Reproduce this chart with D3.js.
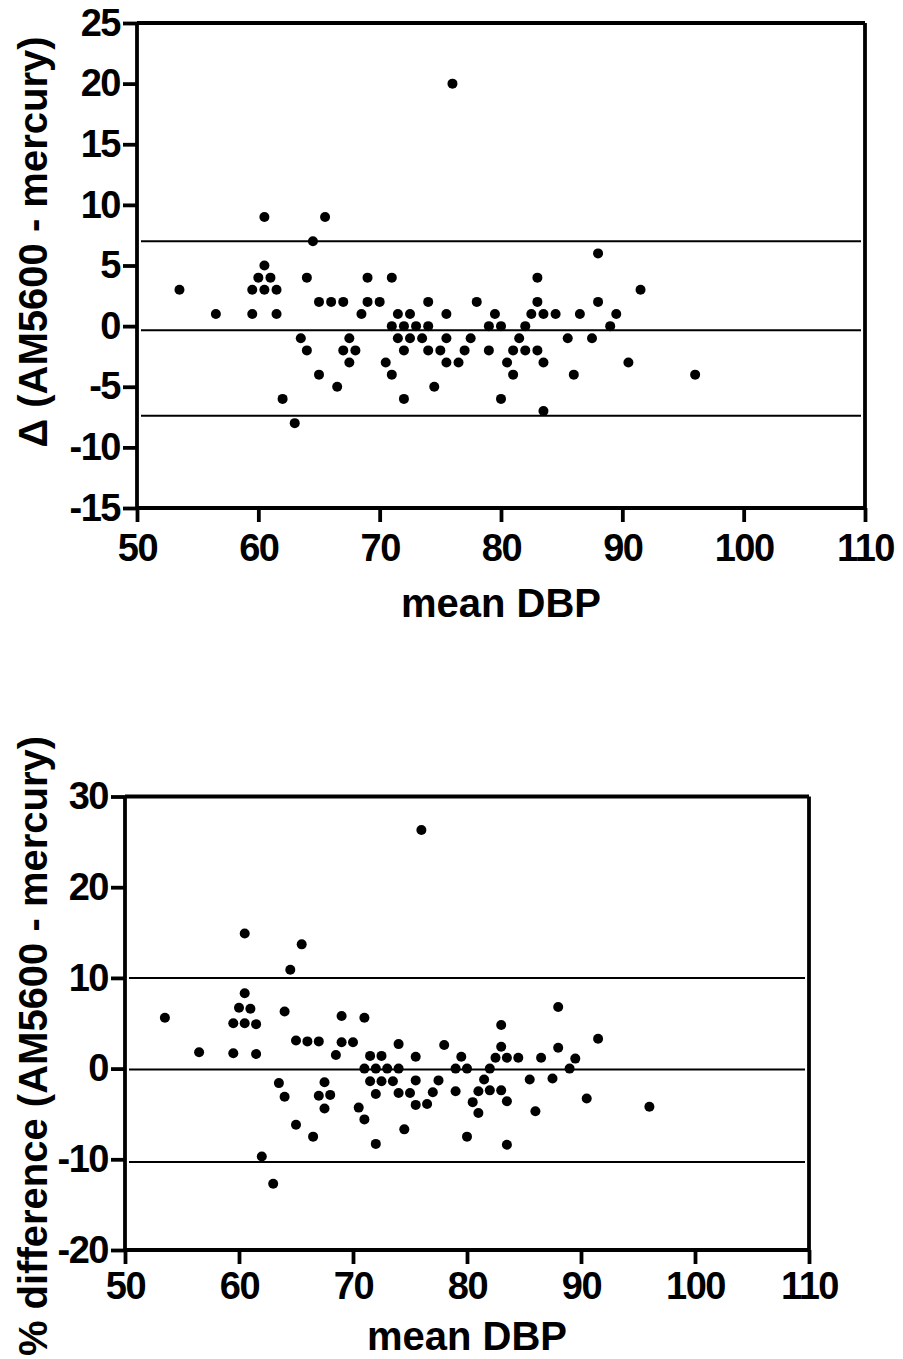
<!DOCTYPE html>
<html>
<head>
<meta charset="utf-8">
<script src="https://cdn.jsdelivr.net/npm/d3@7"></script>
<style>
  html, body { margin: 0; padding: 0; background: #fff; }
  svg { display: block; }
  text { font-family: "Liberation Sans", Arial, sans-serif; font-weight: bold; fill: #000; }
</style>
</head>
<body>
<svg id="chart" width="903" height="1359"></svg>
<script>
// ---- data ----
const meanDBP = [53.5,56.5,59.5,59.5,60,60.5,60.5,60.5,61,61.5,61.5,62,63,63.5,64,64,64.5,65,65,65.5,66,66.5,67,67,67.5,67.5,68,68.5,69,69,70,70.5,71,71,71,71.5,71.5,72,72,72,72.5,72.5,73,73.5,74,74,74,74.5,75,75.5,75.5,75.5,76,76.5,77,77.5,78,79,79,79.5,80,80,80.5,81,81,81.5,82,82,82.5,83,83,83,83.5,83.5,83.5,84.5,85.5,86,86.5,87.5,88,88,89,89.5,90.5,91.5,96];
const deltaVals = [3,1,3,1,4,9,5,3,4,3,1,-6,-8,-1,4,-2,7,2,-4,9,2,-5,2,-2,-1,-3,-2,1,4,2,2,-3,4,0,-4,1,-1,0,-2,-6,1,-1,0,-1,2,0,-2,-5,-2,1,-1,-3,20,-3,-2,-1,2,0,-2,1,0,-6,-3,-2,-4,-1,0,-2,1,4,2,-2,1,-3,-7,1,-1,-4,1,-1,6,2,0,1,-3,3,-4];
const pctVals = [5.6,1.8,5.0,1.7,6.7,14.9,8.3,5.0,6.6,4.9,1.6,-9.7,-12.7,-1.6,6.3,-3.1,10.9,3.1,-6.2,13.7,3.0,-7.5,3.0,-3.0,-1.5,-4.4,-2.9,1.5,5.8,2.9,2.9,-4.3,5.6,0,-5.6,1.4,-1.4,0,-2.8,-8.3,1.4,-1.4,0,-1.4,2.7,0,-2.7,-6.7,-2.7,1.3,-1.3,-4.0,26.3,-3.9,-2.6,-1.3,2.6,0,-2.5,1.3,0,-7.5,-3.7,-2.5,-4.9,-1.2,0,-2.4,1.2,4.8,2.4,-2.4,1.2,-3.6,-8.4,1.2,-1.2,-4.7,1.2,-1.1,6.8,2.3,0,1.1,-3.3,3.3,-4.2];

const deltaLines = [7.0, -0.35, -7.4];   // upper limit, mean, lower limit
const pctLines = [10.0, -0.1, -10.3];

const xTicks = [50,60,70,80,90,100,110];
const deltaTicks = [-15,-10,-5,0,5,10,15,20,25];
const pctTicks = [-20,-10,0,10,20,30];

const xTitle = "mean DBP";
const deltaTitle = "\u0394 (AM5600 - mercury)";
const pctTitle = "% difference (AM5600 - mercury)";

// ---- drawing ----
const svg = d3.select("#chart");

function panel(cfg) {
  const g = svg.append("g");
  const x = d3.scaleLinear().domain([50,110]).range([cfg.left, cfg.right]);
  const y = d3.scaleLinear().domain(cfg.yDomain).range([cfg.bottom, cfg.top]);

  // reference lines
  g.selectAll("line.ref").data(cfg.lines).enter().append("line")
    .attr("class","ref")
    .attr("x1", x(50) + 4).attr("x2", x(110) - 4)
    .attr("y1", d => y(d)).attr("y2", d => y(d))
    .attr("stroke", "#000").attr("stroke-width", 2);

  // points
  g.selectAll("circle").data(meanDBP.map((m,i) => [m, cfg.values[i]])).enter().append("circle")
    .attr("cx", d => x(d[0])).attr("cy", d => y(d[1])).attr("r", 5)
    .attr("fill", "#000");

  // frame (top and right)
  g.append("line").attr("x1", x(50)).attr("x2", x(110)).attr("y1", y(cfg.yDomain[1])).attr("y2", y(cfg.yDomain[1]))
    .attr("stroke","#000").attr("stroke-width",3.8);
  g.append("line").attr("x1", x(110)).attr("x2", x(110)).attr("y1", y(cfg.yDomain[0])).attr("y2", y(cfg.yDomain[1]))
    .attr("stroke","#000").attr("stroke-width",3.8);

  // axes
  const xa = g.append("g").attr("transform", `translate(0,${cfg.bottom})`)
    .call(d3.axisBottom(x).tickValues(xTicks).tickSize(14).tickPadding(cfg.xPad).tickFormat(d => String(d)));
  const ya = g.append("g").attr("transform", `translate(${cfg.left},0)`)
    .call(d3.axisLeft(y).tickValues(cfg.yTicks).tickSize(14).tickPadding(3).tickFormat(d => String(d)));
  [xa, ya].forEach(a => {
    a.select(".domain").attr("stroke","#000").attr("stroke-width",3.8);
    a.selectAll(".tick line").attr("stroke","#000").attr("stroke-width",3.8);
    a.selectAll(".tick text").attr("font-size", 38).attr("letter-spacing", "-1.5px")
      .attr("font-family", '"Liberation Sans", Arial, sans-serif').attr("font-weight","bold").attr("fill","#000");
  });
  xa.select(".domain").attr("d", `M${cfg.left},0H${cfg.right}`);
  ya.select(".domain").attr("d", `M0,${cfg.bottom}V${cfg.top}`);

  // titles
  g.append("text").attr("x", (cfg.left + cfg.right) / 2).attr("y", cfg.xTitleY)
    .attr("text-anchor","middle").attr("font-size", 40).text(xTitle);
  g.append("text").attr("transform", `translate(${cfg.yTitleX},${cfg.yTitleCY}) rotate(-90)`)
    .attr("text-anchor","middle").attr("font-size", 40).text(cfg.yTitle);
}

panel({left:137, right:865, top:23, bottom:508, yDomain:[-15,25], yTicks:deltaTicks, xPad:12,
       values:deltaVals, lines:deltaLines, yTitle:deltaTitle, xTitleY:617, yTitleX:47, yTitleCY:242});
panel({left:125, right:809, top:796.5, bottom:1250, yDomain:[-20,30], yTicks:pctTicks, xPad:8,
       values:pctVals, lines:pctLines, yTitle:pctTitle, xTitleY:1350, yTitleX:47, yTitleCY:1046});
</script>
</body>
</html>
